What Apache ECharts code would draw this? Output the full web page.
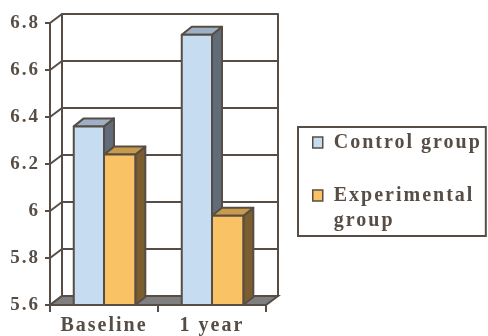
<!DOCTYPE html>
<html>
<head>
<meta charset="utf-8">
<script src="https://cdn.jsdelivr.net/npm/echarts@6/dist/echarts.min.js"></script>
<style>
  html, body { margin: 0; padding: 0; background: #fff; }
  #main { width: 488px; height: 336px; }
</style>
</head>
<body>
<div id="main"></div>
<script>
// 数据
var categories = ['Baseline', '1 year'];
var controlGroup = [6.36, 6.75];
var experimentalGroup = [6.24, 5.98];
var yTicks = [5.6, 5.8, 6.0, 6.2, 6.4, 6.6, 6.8];

// 原图文字字距较宽：canvas 画字前加上 letterSpacing
(function () {
  var fill = CanvasRenderingContext2D.prototype.fillText;
  CanvasRenderingContext2D.prototype.fillText = function () {
    this.letterSpacing = '2px';
    return fill.apply(this, arguments);
  };
})();

(function () {
  var LINE = '#584d44';
  var FONT = 'Liberation Serif';
  var BACK_DX = 12, BACK_DY = 9;   // 背景墙偏移
  var DEPTH_DX = 10, DEPTH_DY = 8; // 柱子厚度
  var yMin = yTicks[0], yMax = yTicks[yTicks.length - 1];

  // 画一根立体柱子
  function bar3d(offL, offR, front, top, side) {
    return function (params, api) {
      var i = api.value(0);
      var base = api.coord([i, yMin]);
      var head = api.coord([i, api.value(1)]);
      var bw = api.size([1, 0])[0];
      var x0 = base[0] + bw * offL, x1 = base[0] + bw * offR;
      var y0 = head[1], y1 = base[1];
      var st = { stroke: LINE, lineWidth: 2, lineJoin: 'round' };
      return {
        type: 'group',
        children: [
          { type: 'polygon', shape: { points: [[x1, y0], [x1 + DEPTH_DX, y0 - DEPTH_DY], [x1 + DEPTH_DX, y1 - DEPTH_DY], [x1, y1]] },
            style: Object.assign({ fill: side }, st) },
          { type: 'polygon', shape: { points: [[x0, y0], [x0 + DEPTH_DX, y0 - DEPTH_DY], [x1 + DEPTH_DX, y0 - DEPTH_DY], [x1, y0]] },
            style: Object.assign({ fill: top }, st) },
          { type: 'rect', shape: { x: x0, y: y0, width: x1 - x0, height: y1 - y0 },
            style: Object.assign({ fill: front }, st) }
        ]
      };
    };
  }

  var myChart = echarts.init(document.getElementById('main'));
  var labelStyle = { color: LINE, fontFamily: FONT, fontWeight: 'bold' };
  var option = {
    animation: false,
    grid: [
      { left: 50, top: 23, width: 216, height: 282 },
      { left: 50 + BACK_DX, top: 23 - BACK_DY, width: 216, height: 282 }
    ],
    xAxis: [
      {
        type: 'category', gridIndex: 0, data: categories,
        axisLine: { lineStyle: { color: LINE, width: 2 } },
        axisTick: { show: true, alignWithLabel: false, length: 7, lineStyle: { color: LINE, width: 2 } },
        axisLabel: Object.assign({ fontSize: 20, margin: 11, interval: 0 }, labelStyle)
      },
      { type: 'category', gridIndex: 1, data: categories, show: false }
    ],
    yAxis: [
      {
        type: 'value', gridIndex: 0, min: yMin, max: yMax, interval: 0.2,
        axisLine: { show: true, lineStyle: { color: LINE, width: 2 } },
        axisTick: { show: true, length: 5, lineStyle: { color: LINE, width: 2 } },
        splitLine: { show: false },
        axisLabel: Object.assign({ fontSize: 19, margin: 10 }, labelStyle)
      },
      {
        type: 'value', gridIndex: 1, min: yMin, max: yMax, interval: 0.2,
        axisLine: { show: true, lineStyle: { color: LINE, width: 2 } },
        axisTick: { show: false }, axisLabel: { show: false },
        splitLine: { show: true, lineStyle: { color: LINE, width: 2 } }
      },
      {
        type: 'value', gridIndex: 1, position: 'right', min: yMin, max: yMax, interval: 0.2,
        axisLine: { show: true, lineStyle: { color: LINE, width: 2 } },
        axisTick: { show: false }, axisLabel: { show: false }, splitLine: { show: false }
      }
    ],
    legend: {
      orient: 'vertical', left: 298, top: 127,
      padding: [3, 30, 3, 14], itemGap: 3,
      itemWidth: 10, itemHeight: 11, icon: 'rect',
      borderColor: LINE, borderWidth: 2,
      itemStyle: { borderColor: LINE, borderWidth: 1.5 },
      data: ['Control group', 'Experimental group'],
      formatter: function (name) {
        return name === 'Experimental group' ? ' \nExperimental\ngroup' : name;
      },
      textStyle: { color: LINE, fontFamily: FONT, fontWeight: 'bold', fontSize: 20, lineHeight: 25, padding: [0, 0, 0, 6] }
    },
    series: [
      {
        // 左侧墙的斜线
        type: 'custom', xAxisIndex: 0, yAxisIndex: 0, silent: true,
        data: yTicks.map(function (v) { return [0, v]; }),
        renderItem: function (params, api) {
          var y = api.coord([0, api.value(1)])[1];
          var x = params.coordSys.x;
          return { type: 'line', shape: { x1: x, y1: y, x2: x + BACK_DX, y2: y - BACK_DY },
            style: { stroke: LINE, lineWidth: 2 } };
        }
      },
      {
        // 底板
        type: 'custom', xAxisIndex: 0, yAxisIndex: 0, silent: true,
        data: [[0, yMin]],
        renderItem: function (params, api) {
          var y = api.coord([0, api.value(1)])[1];
          var cs = params.coordSys;
          return { type: 'polygon',
            shape: { points: [[cs.x, y], [cs.x + BACK_DX, y - BACK_DY], [cs.x + cs.width + BACK_DX, y - BACK_DY], [cs.x + cs.width, y]] },
            style: { fill: '#7f7f7f', stroke: LINE, lineWidth: 2 } };
        }
      },
      {
        name: 'Control group', type: 'custom', xAxisIndex: 0, yAxisIndex: 0,
        itemStyle: { color: '#c6dcf0' },
        data: controlGroup.map(function (v, i) { return [i, v]; }),
        renderItem: bar3d(-0.28, 0, '#c6dcf0', '#9db1c6', '#606c79')
      },
      {
        name: 'Experimental group', type: 'custom', xAxisIndex: 0, yAxisIndex: 0,
        itemStyle: { color: '#f9c264' },
        data: experimentalGroup.map(function (v, i) { return [i, v]; }),
        renderItem: bar3d(0, 0.29, '#f9c264', '#c89a4c', '#7b5d2f')
      }
    ]
  };
  myChart.setOption(option);
})();
</script>
</body>
</html>
